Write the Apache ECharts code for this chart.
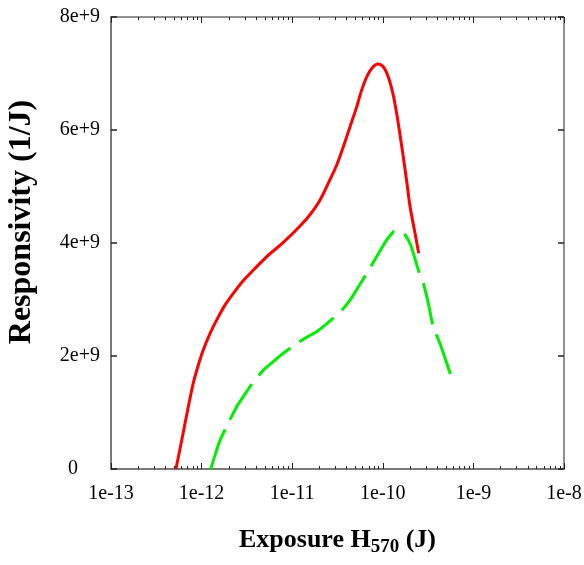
<!DOCTYPE html>
<html>
<head>
<meta charset="utf-8">
<script src="https://cdn.jsdelivr.net/npm/echarts@6/dist/echarts.min.js"></script>
<style>
  html, body { margin: 0; padding: 0; background: #fff; }
  #chart { width: 584px; height: 565px; }
</style>
</head>
<body>
<div id="chart"></div>
<script>
// Exposure (J) and responsivity (1/J) samples for the two curves
const redExposure = [5.21e-13, 6.28e-13, 7.13e-13, 8.09e-13, 9.20e-13, 1.045e-12,
  1.24e-12, 1.47e-12, 1.81e-12, 2.24e-12, 2.77e-12, 3.42e-12, 5.24e-12, 7.98e-12,
  1.22e-11, 1.57e-11, 2.03e-11, 2.61e-11, 3.10e-11, 3.66e-11, 4.35e-11, 5.15e-11,
  5.85e-11, 6.64e-11, 7.53e-11, 8.79e-11, 1.01e-10, 1.15e-10, 1.29e-10, 1.42e-10,
  1.55e-10, 1.68e-10, 1.84e-10, 2.0e-10, 2.27e-10, 2.49e-10];
const redResponsivity = [0, 0.65e9, 1.10e9, 1.52e9, 1.84e9, 2.11e9,
  2.40e9, 2.64e9, 2.90e9, 3.11e9, 3.30e9, 3.46e9, 3.76e9, 4.01e9,
  4.30e9, 4.50e9, 4.76e9, 5.12e9, 5.38e9, 5.70e9, 6.06e9, 6.41e9,
  6.71e9, 6.94e9, 7.09e9, 7.17e9, 7.12e9, 6.94e9, 6.65e9, 6.30e9,
  5.91e9, 5.53e9, 5.08e9, 4.64e9, 4.17e9, 3.82e9];

const greenExposure = [1.26e-12, 1.41e-12, 1.60e-12, 1.97e-12, 2.44e-12, 2.88e-12, 3.42e-12,
  4.06e-12, 4.80e-12, 6.18e-12, 7.98e-12, 1.12e-11, 1.51e-11, 1.86e-11, 2.20e-11,
  2.84e-11, 3.52e-11, 4.35e-11, 5.36e-11, 6.64e-11, 8.57e-11, 1.10e-10, 1.25e-10,
  1.36e-10, 1.55e-10, 1.76e-10, 2.0e-10, 2.17e-10, 2.47e-10, 2.80e-10, 3.18e-10,
  3.61e-10, 4.28e-10, 5.75e-10];
const greenResponsivity = [0, 0.25e9, 0.51e9, 0.81e9, 1.10e9, 1.28e9, 1.46e9,
  1.61e9, 1.75e9, 1.90e9, 2.05e9, 2.22e9, 2.35e9, 2.43e9, 2.52e9,
  2.67e9, 2.81e9, 2.99e9, 3.22e9, 3.46e9, 3.76e9, 4.05e9, 4.16e9,
  4.22e9, 4.20e9, 4.14e9, 3.99e9, 3.82e9, 3.52e9, 3.29e9, 2.93e9,
  2.52e9, 2.22e9, 1.61e9];

// Axis ranges and tick labels
const xMin = 1e-13, xMax = 1e-8;
const xTickLabels = ['1e-13', '1e-12', '1e-11', '1e-10', '1e-9', '1e-8'];
const yTickLabels = ['0', '2e+9', '4e+9', '6e+9', '8e+9'];
const yMin = 0, yMax = 8e9, yStep = 2e9;

// minor ticks at 2..9 within each decade
const minorTicks = [];
for (let e = -13; e < -8; e++) {
  for (let k = 2; k <= 9; k++) minorTicks.push(k * Math.pow(10, e));
}

const serif = 'Liberation Serif';
const tickColor = '#222';
const frameGray = '#7a7a7a';

function zip(xs, ys) { return xs.map((x, i) => [x, ys[i]]); }

function xAxisFor(position, major) {
  return {
    type: 'log', logBase: 10, min: xMin, max: xMax, position: position,
    axisLine: (major && position === 'bottom')
      ? { show: true, lineStyle: { color: frameGray, width: 2 } }
      : { show: false },
    splitLine: { show: false },
    axisTick: major
      ? { show: true, inside: true, length: 6, lineStyle: { color: tickColor, width: 1 } }
      : { show: true, inside: true, length: 3, customValues: minorTicks, lineStyle: { color: tickColor, width: 1 } },
    axisLabel: (major && position === 'bottom') ? {
      show: true, margin: 15, color: '#000', fontFamily: serif, fontSize: 20,
      formatter: (v) => xTickLabels[Math.round(Math.log10(v) + 13)]
    } : { show: false }
  };
}

function yAxisFor(position) {
  const base = {
    type: 'value', min: yMin, max: yMax, interval: yStep, position: position,
    axisLine: { show: false },
    splitLine: { show: false },
    axisTick: { show: true, inside: true, length: 6, lineStyle: { color: tickColor, width: 1.5 } }
  };
  if (position === 'left') {
    base.axisLine = { show: true, lineStyle: { color: frameGray, width: 2 } };
    base.axisLabel = {
      show: true, margin: 11, color: '#000', fontFamily: serif, fontSize: 20,
      formatter: (v) => {
        const i = Math.round(v / yStep);
        return i === 0 ? '{z|' + yTickLabels[0] + '}' : yTickLabels[i];
      },
      rich: { z: { fontFamily: serif, fontSize: 20, color: '#000', padding: [0, 22, 0, 0] } }
    };
    base.name = 'Responsivity (1/J)';
    base.nameLocation = 'middle';
    base.nameGap = 73;
    base.nameTextStyle = {
      color: '#000', fontFamily: serif, fontSize: 32, fontWeight: 'bold',
      padding: [0, 0, 0, 42]
    };
  } else {
    base.axisLabel = { show: false };
  }
  return base;
}

const chart = echarts.init(document.getElementById('chart'), null, { renderer: 'canvas' });
const x0 = xAxisFor('bottom', true);
x0.name = '{a|Exposure H}{s|570}{a| (J)}';
x0.nameLocation = 'middle';
x0.nameGap = 55;
x0.nameTextStyle = {
  rich: {
    a: { fontFamily: serif, fontSize: 26, fontWeight: 'bold', color: '#000' },
    s: { fontFamily: serif, fontSize: 19, fontWeight: 'bold', color: '#000', padding: [14, 0, 0, 0] }
  }
};

chart.setOption({
  animation: false,
  backgroundColor: '#fff',
  grid: {
    left: 111, right: 20, top: 17, bottom: 96,
    outerBoundsMode: 'none', containLabel: false,
    show: true, borderColor: '#222', borderWidth: 1, backgroundColor: 'transparent'
  },
  xAxis: [x0, xAxisFor('bottom', false), xAxisFor('top', true), xAxisFor('top', false)],
  yAxis: [yAxisFor('left'), yAxisFor('right')],
  series: [
    {
      type: 'line', xAxisIndex: 0, yAxisIndex: 0,
      data: zip(redExposure, redResponsivity),
      smooth: 0.3, showSymbol: false,
      lineStyle: { color: '#ff0000', width: 3 }
    },
    {
      type: 'line', xAxisIndex: 0, yAxisIndex: 0,
      data: zip(greenExposure, greenResponsivity),
      smooth: 0.3, showSymbol: false,
      lineStyle: { color: '#00ee00', width: 3, type: [42, 11] }
    }
  ]
});
</script>
</body>
</html>
